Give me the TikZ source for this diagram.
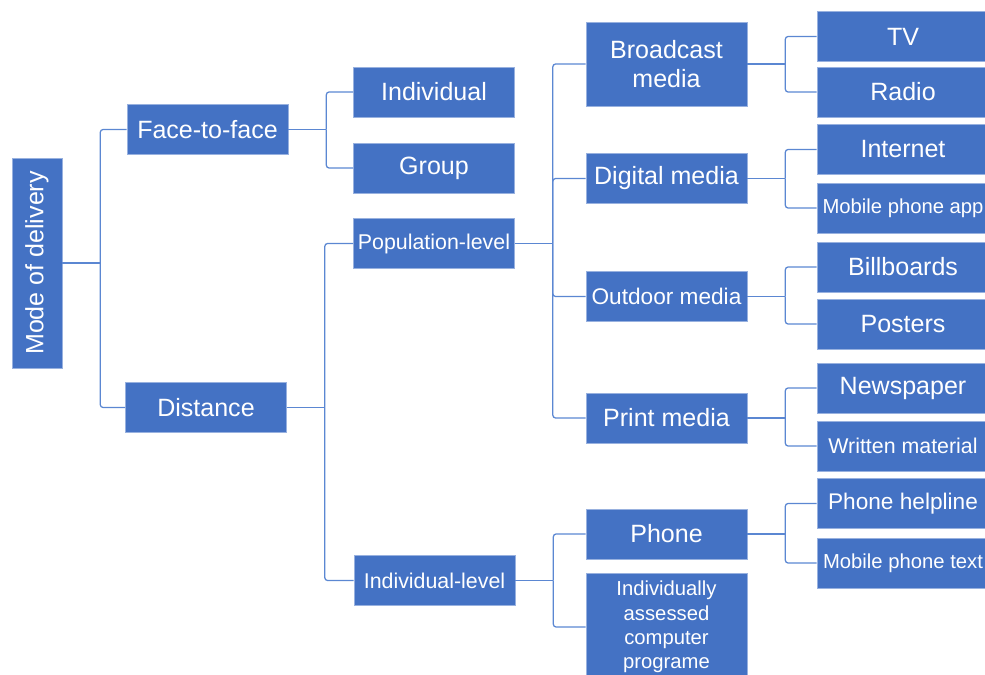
\documentclass[tikz,border=0pt]{standalone}
\usepackage{fontspec}
\setmainfont{Liberation Sans}
\usepackage{graphicx}

\definecolor{boxblue}{HTML}{4472C4}
\definecolor{lineblue}{HTML}{5B87D2}

\begin{document}
\begin{tikzpicture}[
    x=0.025cm,
    y=-0.025cm,
    box/.style={
        fill=boxblue,
        draw=boxblue!55!white,
        line width=0.4pt,
        text=white,
        inner sep=0pt,
        minimum width=4.025cm,
        minimum height=1.25cm,
        align=center,
        font=\fontsize{17.8pt}{20.6pt}\selectfont
    },
    leaf/.style={
        box,
        minimum width=4.3cm
    },
    midtext/.style={font=\fontsize{16.1pt}{19pt}\selectfont},
    smalltext/.style={font=\fontsize{15.2pt}{18pt}\selectfont},
    finetext/.style={font=\fontsize{14.4pt}{17.4pt}\selectfont},
    link/.style={
        draw=lineblue,
        line width=0.9pt,
        rounded corners=2pt
    }
]

    \useasboundingbox (0,0) rectangle (985,675);
    \clip (0,0) rectangle (985,675);

    % root and first level
    \node[
        box,
        minimum width=1.25cm,
        minimum height=5.25cm
    ] (root) at (37,263) {\rotatebox{90}{Mode of delivery}};

    \node[box] (face) at (207.5,129.5) {Face-to-face};
    \node[box] (distance) at (206,407.5) {Distance};

    % second level
    \node[box] (individual) at (434,92) {Individual};
    \node[box] (group) at (434,168) {Group};
    \node[
        box,
        smalltext
    ] (population) at (434,243.5) {Population-level};
    \node[
        box,
        smalltext
    ] (indlevel) at (434.5,580.5) {Individual-level};

    % third level
    \node[
        box,
        minimum height=2.1cm
    ] (broadcast) at (666.5,64) {Broadcast\\media};
    \node[box] (digital) at (666.5,178.5) {Digital media};
    \node[
        box,
        midtext
    ] (outdoor) at (666.5,296.5) {Outdoor media};
    \node[box] (print) at (666.5,418) {Print media};
    \node[box] (phone) at (666.5,534) {Phone};
    \node[
        box,
        finetext,
        minimum height=2.7cm
    ] (program) at (666.5,627)
        {Individually\\assessed\\computer\\programe};

    % leaves
    \node[leaf] (tv) at (903,36.5) {TV};
    \node[leaf] (radio) at (903,92) {Radio};
    \node[leaf] (internet) at (903,149.5) {Internet};
    \node[
        leaf,
        finetext
    ] (app) at (903,208) {Mobile phone app};
    \node[leaf] (billboards) at (903,267) {Billboards};
    \node[leaf] (posters) at (903,324) {Posters};
    \node[leaf] (newspaper) at (903,388) {Newspaper};
    \node[
        leaf,
        smalltext
    ] (written) at (903,446) {Written material};
    \node[
        leaf,
        midtext
    ] (helpline) at (903,503.5) {Phone helpline};
    \node[
        leaf,
        finetext
    ] (text) at (903,563) {Mobile phone text};

    % brackets
    \foreach \parent/\kids in {
        root/{face,distance},
        face/{individual,group},
        distance/{population,indlevel},
        population/{broadcast,digital,outdoor,print},
        indlevel/{phone,program},
        broadcast/{tv,radio},
        digital/{internet,app},
        outdoor/{billboards,posters},
        print/{newspaper,written},
        phone/{helpline,text}%
    } {
        \draw[link] (\parent.east) -- ++(38,0) coordinate (\parent-j);
        \foreach \kid in \kids {
            \draw[link] (\parent-j) |- (\kid.west);
        }
    }

\end{tikzpicture}
\end{document}
